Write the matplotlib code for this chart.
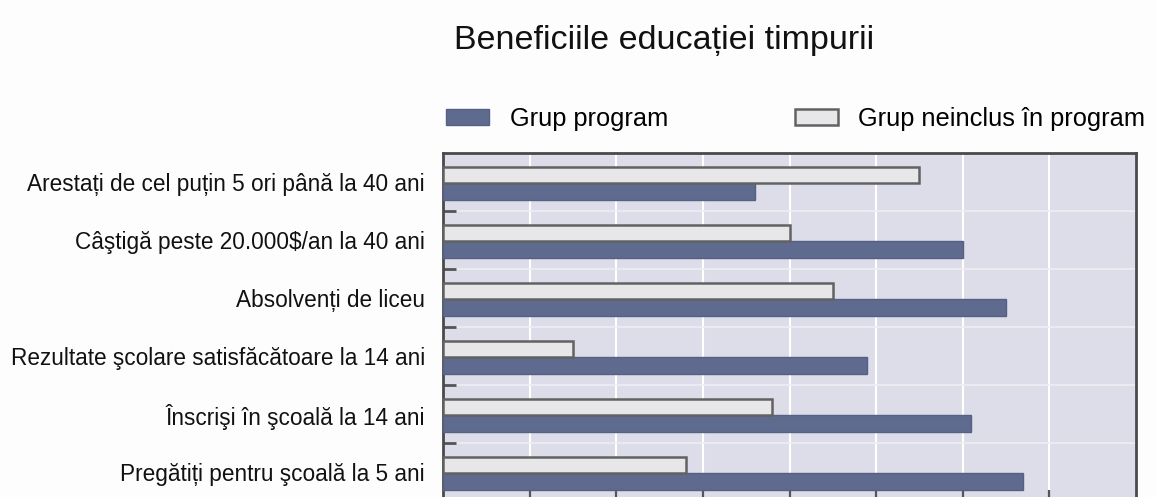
import matplotlib.pyplot as plt
import numpy as np

plt.rcParams['font.family'] = ['Liberation Sans', 'DejaVu Sans']

categories = ['Arestați de cel puțin 5 ori până la 40 ani',
              'Câştigă peste 20.000$/an la 40 ani',
              'Absolvenți de liceu',
              'Rezultate şcolare satisfăcătoare la 14 ani',
              'Înscrişi în şcoală la 14 ani',
              'Pregătiți pentru şcoală la 5 ani']
program = [36, 60, 65, 49, 61, 67]
neinclus = [55, 40, 45, 15, 38, 28]
series_names = ['Grup program', 'Grup neinclus în program']

W, H = 1157, 497
fig = plt.figure(figsize=(W / 100, H / 100), dpi=100, facecolor='#fdfdfd')
ax = fig.add_axes([443 / W, 1 - 501 / H, 693 / W, 348 / H])
ax.set_facecolor('#dcdde8')

y = np.arange(len(categories))
h = 0.29
b_prog = ax.barh(y + 0.17, program, height=h, color='#5f6a8f',
                 edgecolor='#566084', linewidth=1, zorder=3,
                 label=series_names[0])
b_non = ax.barh(y - 0.12, neinclus, height=h, color='#e7e7e9',
                edgecolor='#626262', linewidth=1.8, zorder=3,
                label=series_names[1])

ax.set_xlim(0, 80)
ax.set_ylim(len(categories) - 0.5, -0.5)

ax.set_yticks(y)
ax.set_yticklabels(categories, fontsize=16.3, color='#111111')
ax.set_yticks(y[:-1] + 0.5, minor=True)
ax.tick_params(axis='y', which='major', length=0, pad=13)
ax.tick_params(axis='y', which='minor', direction='in', length=9,
               width=2, color='#555555')

ax.set_xticks(np.arange(10, 80, 10))
ax.tick_params(axis='x', direction='in', length=8, width=1.6,
               color='#555555', labelbottom=False)
ax.grid(axis='x', which='major', color='white', linewidth=1.5, zorder=1)
ax.grid(axis='y', which='minor', color='#eeeef4', linewidth=1.2, zorder=1)
ax.set_axisbelow(True)

for s in ax.spines.values():
    s.set_color('#4a4a4a')
    s.set_linewidth(2)

fig.text(664 / W, 1 - 40 / H, 'Beneficiile educației timpurii',
         ha='center', va='center', fontsize=24.5, color='#111111')

fig.legend(handles=[b_prog, b_non], loc='center left',
           bbox_to_anchor=(446 / W, 1 - 119 / H), ncol=2, frameon=False,
           fontsize=18.3, handlelength=1.7, handleheight=0.6,
           handletextpad=0.8, columnspacing=5.0, borderpad=0,
           borderaxespad=0)

fig.savefig('out.png', dpi=100, facecolor=fig.get_facecolor())
